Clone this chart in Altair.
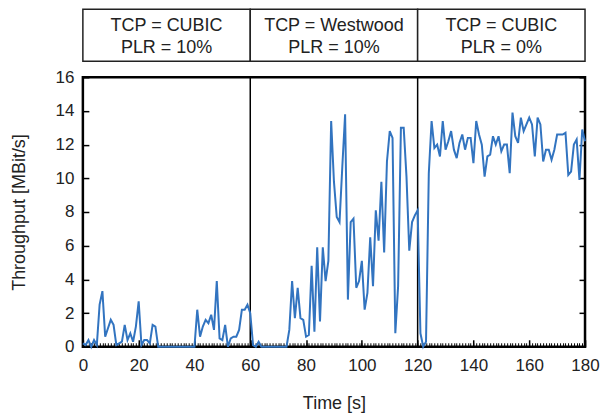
import altair as alt
import pandas as pd

time_s = list(range(0, 181))
throughput = [
    0.2, 0.1, 0.4, 0.0, 0.4, 0.1, 2.5, 3.3, 0.6, 1.1,
    1.6, 1.3, 0.1, 0.2, 0.3, 1.3, 0.4, 0.8, 0.3, 1.2,
    2.7, 0.1, 0.4, 0.4, 0.2, 1.3, 1.2, 0.0, 0.0, 0.0,
    0.0, 0.0, 0.0, 0.0, 0.0, 0.0, 0.0, 0.0, 0.0, 0.0,
    0.0, 2.2, 0.6, 1.2, 1.6, 1.4, 1.9, 1.0, 3.9, 0.5,
    0.4, 1.3, 0.0, 0.5, 0.6, 0.6, 1.0, 2.2, 2.2, 2.5,
    2.0, 0.1, 0.0, 0.3, 0.0, 0.0, 0.0, 0.0, 0.0, 0.0,
    0.0, 0.0, 0.0, 0.0, 1.0, 3.9, 1.7, 3.5, 1.7, 1.6,
    0.6, 0.7, 4.8, 0.9, 5.9, 1.5, 5.9, 3.9, 5.1, 13.4,
    9.8, 7.7, 7.4, 10.7, 13.8, 2.8, 7.4, 7.6, 3.5, 3.9,
    5.1, 2.2, 3.2, 6.5, 3.6, 8.1, 6.3, 9.8, 5.6, 11.0,
    12.8, 12.4, 0.8, 3.6, 13.0, 13.0, 10.1, 5.7, 7.4, 7.8,
    8.1, 0.8, 0.0, 0.3, 10.3, 13.4, 11.8, 12.0, 11.3, 13.4,
    11.7, 12.2, 12.8, 11.7, 11.2, 12.1, 12.6, 11.7, 12.4, 12.4,
    10.9, 13.4, 12.6, 12.0, 10.1, 11.3, 11.4, 12.5, 12.0, 12.5,
    11.6, 12.0, 12.0, 10.3, 13.9, 12.5, 12.1, 13.6, 12.8, 13.2,
    13.6, 13.2, 11.3, 13.6, 13.2, 11.0, 11.7, 11.7, 11.1, 11.7,
    12.6, 12.6, 12.6, 12.7, 10.2, 10.4, 12.0, 12.3, 9.9, 12.9,
    12.2,
]

phase_start = [0, 60, 120]
phase_end = [60, 120, 180]
phase_labels = ["TCP = CUBIC\nPLR = 10%", "TCP = Westwood\nPLR = 10%", "TCP = CUBIC\nPLR = 0%"]
phase_bounds = [60, 120]

x_major = list(range(0, 181, 20))
x_minor = list(range(0, 181, 1))
y_ticks = list(range(0, 17, 2))

FONT = "Liberation Sans"
TXT = "#222222"
W, H, HH = 503, 270, 52

df = pd.DataFrame({"t": time_s, "v": throughput})
bounds_df = pd.DataFrame({"b": phase_bounds})
hdr = pd.DataFrame({"s": phase_start, "e": phase_end, "label": phase_labels})
hdr["m"] = (hdr["s"] + hdr["e"]) / 2

xscale = alt.Scale(domain=[0, 180], nice=False, zero=False)
yscale = alt.Scale(domain=[0, 16], nice=False)

x_axis_major = alt.Axis(
    orient="bottom",
    values=x_major,
    labelOverlap=False,
    labelFlush=False,
    tickSize=7,
    offset=-7,
    tickColor="black",
    tickWidth=1.5,
    domain=False,
    grid=False,
    labelFont=FONT,
    labelFontSize=17,
    labelColor=TXT,
    labelPadding=11,
    title="Time [s]",
    titleFont=FONT,
    titleFontSize=18,
    titleFontWeight="normal",
    titleColor=TXT,
    titlePadding=21,
)

x_axis_minor = alt.Axis(
    orient="bottom",
    values=x_minor,
    tickSize=4,
    offset=-4,
    tickColor="black",
    tickWidth=1,
    domain=False,
    grid=False,
    labels=False,
    title=None,
)

y_axis_left = alt.Axis(
    values=y_ticks,
    tickSize=6,
    offset=-6,
    tickColor="black",
    tickWidth=1.5,
    domain=False,
    grid=False,
    labelFont=FONT,
    labelFontSize=17,
    labelColor=TXT,
    labelPadding=9,
    title="Throughput [MBit/s]",
    titleFont=FONT,
    titleFontSize=18,
    titleFontWeight="normal",
    titleColor=TXT,
    titlePadding=27,
)

y_axis_right = alt.Axis(
    orient="right",
    values=y_ticks,
    tickSize=6,
    offset=-6,
    tickColor="black",
    tickWidth=1.5,
    domain=False,
    grid=False,
    labels=False,
    title=None,
)

line = alt.Chart(df).mark_line(color="#3274c0", strokeWidth=2).encode(
    x=alt.X("t:Q", scale=xscale, axis=x_axis_major),
    y=alt.Y("v:Q", scale=yscale, axis=y_axis_left),
)

ghost = alt.Chart(df).mark_line(opacity=0).encode(
    x=alt.X("t:Q", scale=xscale, axis=x_axis_minor),
    y=alt.Y("v:Q", scale=yscale, axis=y_axis_right),
)

rules = alt.Chart(bounds_df).mark_rule(color="black", strokeWidth=1.5).encode(
    x=alt.X("b:Q", scale=xscale, axis=None),
)

plot = alt.layer(ghost, rules, line).resolve_axis(x="independent", y="independent").properties(
    width=W, height=H,
    view=alt.ViewBackground(stroke="black", strokeWidth=2.5),
)

boxes = alt.Chart(hdr).mark_rect(fill="white", stroke=TXT, strokeWidth=1.5).encode(
    x=alt.X("s:Q", scale=xscale, axis=None),
    x2="e:Q",
    y=alt.value(0),
    y2=alt.value(HH),
)
texts = alt.Chart(hdr).mark_text(
    font=FONT, fontSize=18, color=TXT, lineBreak="\n", lineHeight=22,
    baseline="middle", dy=-9,
).encode(
    x=alt.X("m:Q", scale=xscale, axis=None),
    text="label:N",
)
header = alt.layer(boxes, texts).properties(
    width=W, height=HH,
    view=alt.ViewBackground(strokeOpacity=0),
)

chart = alt.vconcat(header, plot, spacing=4).properties(
    padding={"left": 0, "top": 0, "right": 0, "bottom": 0},
).configure(background="white")

chart.save("out.html", embed_options={"renderer": "svg", "actions": False})
